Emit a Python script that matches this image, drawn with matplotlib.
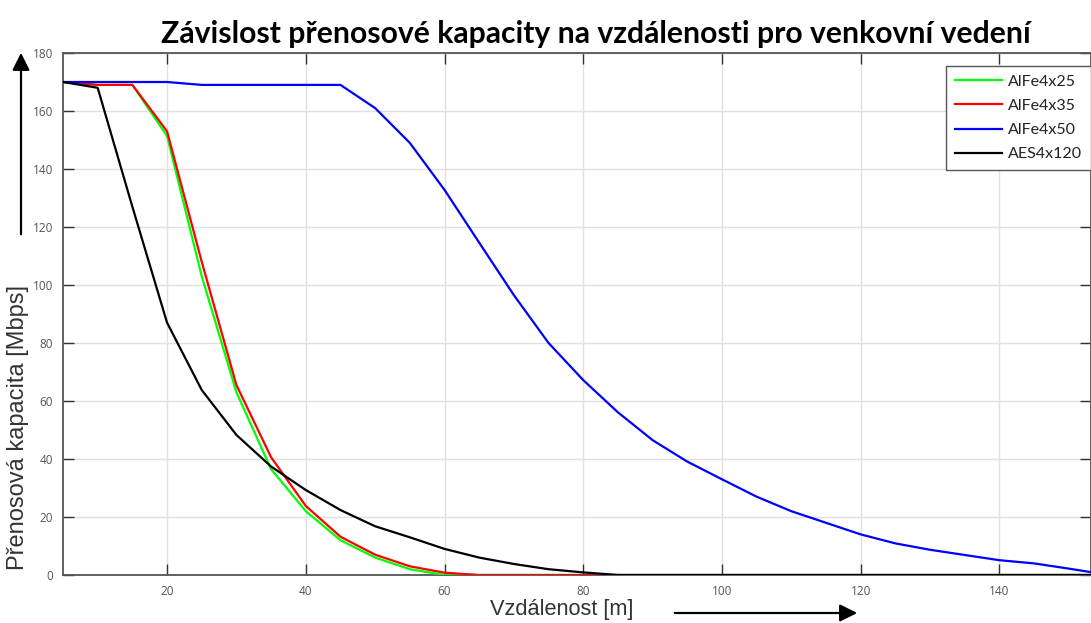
import matplotlib
matplotlib.use("Agg")
import matplotlib.pyplot as plt
import numpy as np

# ---- data ----
distance = [5, 10, 15, 20, 25, 30, 35, 40, 45, 50, 55, 60, 65, 70, 75, 80,
            85, 90, 95, 100, 105, 110, 115, 120, 125, 130, 135, 140, 145, 150, 155]
alfe4x25 = [170, 169, 169, 151.4, 103, 63, 36.5, 22, 12, 6, 2, 0, 0, 0, 0, 0,
            0, 0, 0, 0, 0, 0, 0, 0, 0, 0, 0, 0, 0, 0, 0]
alfe4x35 = [170, 169, 169, 153, 108, 65.5, 40.6, 23.8, 13.2, 7, 3, 0.8, 0, 0, 0, 0,
            0, 0, 0, 0, 0, 0, 0, 0, 0, 0, 0, 0, 0, 0, 0]
alfe4x50 = [170, 170, 170, 170, 169, 169, 169, 169, 169, 161, 149, 132.8, 114.6, 96.5, 80, 67.2,
            56.1, 46.5, 39.1, 33, 27, 22, 18, 14, 10.9, 8.7, 6.9, 5.1, 4, 2.2, 0.3]
aes4x120 = [170, 168, 127, 87, 63.8, 48.3, 37.4, 29.3, 22.4, 16.8, 13, 9, 6, 3.8, 2, 0.9,
            0, 0, 0, 0, 0, 0, 0, 0, 0, 0, 0, 0, 0, 0, 0]
series_names = ["AlFe4x25", "AlFe4x35", "AlFe4x50", "AES4x120"]
series_colors = ["#00ff00", "#ff0000", "#0000ff", "#000000"]
x_ticks = [20, 40, 60, 80, 100, 120, 140]
y_ticks = [0, 20, 40, 60, 80, 100, 120, 140, 160, 180]

W, H = 1091, 623
fig = plt.figure(figsize=(W / 100, H / 100), dpi=100)
ax = fig.add_axes([63 / W, (H - 575) / H, (W - 63) / W, (575 - 53) / H])

for vals, name, col in zip([alfe4x25, alfe4x35, alfe4x50, aes4x120], series_names, series_colors):
    ax.plot(distance, vals, color=col, lw=1.6, label=name, zorder=3)

ax.set_xlim(5, 153.2)
ax.set_ylim(0, 180)
ax.set_xticks(x_ticks)
ax.set_yticks(y_ticks)
ax.grid(True, color="#e0e0e0", lw=1.0)
ax.set_axisbelow(True)
ax.tick_params(direction="in", length=8, width=1.0, color="#333333",
               labelcolor="#555555", labelsize=8.5, top=True, right=True, pad=7)
for lbl in ax.get_xticklabels() + ax.get_yticklabels():
    lbl.set_family("Open Sans")
for s in ax.spines.values():
    s.set_color("#555555")
    s.set_linewidth(1.3)

leg = ax.legend(loc="upper right", bbox_to_anchor=(1.0, (575 - 66) / (575 - 53)),
                prop={"family": "Lato", "size": 11.5}, fancybox=False, framealpha=1,
                edgecolor="#555555", handlelength=3.0, borderpad=0.55,
                labelspacing=0.62, handletextpad=0.35, borderaxespad=0.0)
leg.get_frame().set_linewidth(1.0)
for t in leg.get_texts():
    t.set_color("#222222")

fig.text(596 / W, 1 - 34 / H, "Závislost přenosové kapacity na vzdálenosti pro venkovní vedení",
         ha="center", va="center", fontsize=21.7, fontweight="bold", family="Lato")
fig.text(18 / W, 1 - 428 / H, "Přenosová kapacita [Mbps]", rotation=90,
         ha="center", va="center", fontsize=17, family="Liberation Sans", color="#333333")
fig.text(562 / W, 1 - 609 / H, "Vzdálenost [m]", ha="center", va="center",
         fontsize=15.7, family="Liberation Sans", color="#333333")

# arrows
fig.add_artist(matplotlib.patches.FancyArrowPatch(
    (21 / W, 1 - 237 / H), (21 / W, 1 - 50 / H), transform=fig.transFigure,
    arrowstyle="-|>,head_length=7,head_width=3.5", color="black", lw=1.6, mutation_scale=1.5))
fig.add_artist(matplotlib.patches.FancyArrowPatch(
    (672 / W, 1 - 613 / H), (860 / W, 1 - 613 / H), transform=fig.transFigure,
    arrowstyle="-|>,head_length=7,head_width=3.5", color="black", lw=1.6, mutation_scale=1.5))

fig.savefig("out.png", dpi=100)
